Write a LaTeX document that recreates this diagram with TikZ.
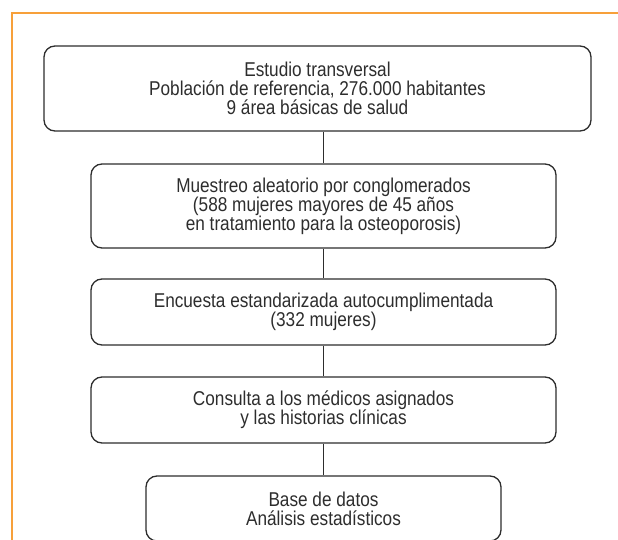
\documentclass[tikz,border=0pt]{standalone}
\usepackage{fontspec}
\setmainfont{Liberation Sans}[FakeStretch=0.86]
\usetikzlibrary{calc}
\definecolor{naranja}{RGB}{247,160,58}
\definecolor{gris}{RGB}{45,45,45}

\begin{document}
\begin{tikzpicture}[x=1pt,y=-1pt,
    caja/.style={draw=gris, line width=1.3pt, rounded corners=11pt, align=center, text=gris, inner sep=0pt, font=\fontsize{20}{19}\selectfont},
    linea/.style={draw=gris, line width=1.3pt}]

    \useasboundingbox (0,0) rectangle (618,540);
    % marco naranja
    \draw [naranja, line width=2.2pt] (12,546) -- (12,13) -- (626,13);

    \node [caja, minimum width=547pt, minimum height=85pt] (estudio) at (317.5,88.5) {Estudio transversal\\Población de referencia, 276.000 habitantes\\9 área básicas de salud};
    \node [caja, minimum width=465pt, minimum height=84pt] (muestreo) at (323.5,206) {Muestreo aleatorio por conglomerados\\(588 mujeres mayores de 45 años\\en tratamiento para la osteoporosis)};
    \node [caja, minimum width=465pt, minimum height=66pt] (encuesta) at (323.5,312) {Encuesta estandarizada autocumplimentada\\(332 mujeres)};
    \node [caja, minimum width=465pt, minimum height=66pt] (consulta) at (323.5,410) {Consulta a los médicos asignados\\y las historias clínicas};
    \node [caja, minimum width=355pt, minimum height=65pt] (base) at (323.5,508.5) {Base de datos\\Análisis estadísticos};

    \draw [linea] (muestreo.north) -- (muestreo.north |- estudio.south);
    \draw [linea] (muestreo) -- (encuesta);
    \draw [linea] (encuesta) -- (consulta);
    \draw [linea] (consulta) -- (base);
\end{tikzpicture}
\end{document}
